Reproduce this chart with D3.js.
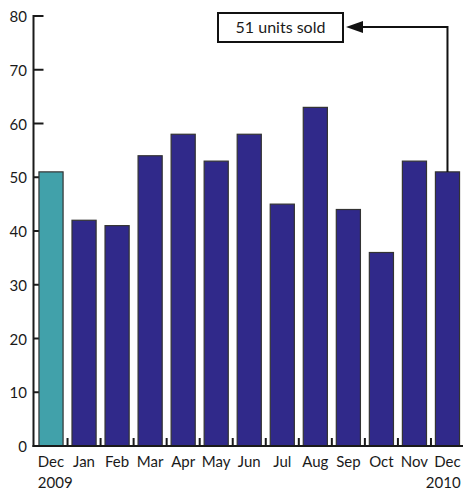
<!DOCTYPE html>
<html>
<head>
<meta charset="utf-8">
<script src="https://cdn.jsdelivr.net/npm/d3@7"></script>
<style>
  body { margin: 0; background: #fff; }
  text { font-family: Lato, "Open Sans", sans-serif; fill: #1a1a1a; }
</style>
</head>
<body>
<svg id="chart" width="463" height="491"></svg>
<script>
// month labels, first and last carry the year underneath
const months = ["Dec", "Jan", "Feb", "Mar", "Apr", "May", "Jun", "Jul", "Aug", "Sep", "Oct", "Nov", "Dec"];
const years = ["2009", "", "", "", "", "", "", "", "", "", "", "", "2010"];
const unitsSold = [51, 42, 41, 54, 58, 53, 58, 45, 63, 44, 36, 53, 51];
const yTicks = [0, 10, 20, 30, 40, 50, 60, 70, 80];
const annotationText = "51 units sold";

const data = months.map((m, i) => ({ i: i, month: m, year: years[i], value: unitsSold[i] }));

const svg = d3.select("#chart");
const axisX = 33.5;
const baseY = 446;

const y = d3.scaleLinear().domain([0, 80]).range([baseY, 16]);
const x = d3.scaleBand()
    .domain(data.map(d => d.i))
    .range([34.5, 464])
    .paddingInner(0.27)
    .paddingOuter(0.135);

// y ticks (drawn first so the bars cover them)
svg.selectAll(".ytick")
    .data(yTicks)
    .enter().append("line")
    .attr("x1", axisX).attr("x2", axisX + 10)
    .attr("y1", d => y(d)).attr("y2", d => y(d))
    .attr("stroke", "#1a1a1a").attr("stroke-width", 2);

svg.selectAll(".ylabel")
    .data(yTicks)
    .enter().append("text")
    .attr("x", 27)
    .attr("y", d => y(d) + 6)
    .attr("text-anchor", "end")
    .attr("font-size", 15)
    .text(d => d);

// small ticks between the bars
const half = (x.step() - x.bandwidth()) / 2;
svg.selectAll(".xtick")
    .data(data.slice(0, -1))
    .enter().append("line")
    .attr("x1", d => x(d.i) + x.bandwidth() + half)
    .attr("x2", d => x(d.i) + x.bandwidth() + half)
    .attr("y1", baseY).attr("y2", baseY - 8)
    .attr("stroke", "#1a1a1a").attr("stroke-width", 2);

svg.selectAll(".bar")
    .data(data)
    .enter().append("rect")
    .attr("x", d => x(d.i))
    .attr("y", d => y(d.value))
    .attr("width", x.bandwidth())
    .attr("height", d => baseY - y(d.value))
    .attr("fill", d => d.i === 0 ? "#41a1aa" : "#30298a")
    .attr("stroke", "#333")
    .attr("stroke-width", 1.2);

// axes lines
svg.append("line")
    .attr("x1", axisX).attr("x2", axisX)
    .attr("y1", y(80) - 1).attr("y2", baseY + 1)
    .attr("stroke", "#1a1a1a").attr("stroke-width", 2);
svg.append("line")
    .attr("x1", axisX - 1).attr("x2", 463)
    .attr("y1", baseY).attr("y2", baseY)
    .attr("stroke", "#1a1a1a").attr("stroke-width", 2);

// month labels
const labels = svg.selectAll(".xlabel")
    .data(data)
    .enter().append("text")
    .attr("x", d => x(d.i) + x.bandwidth() / 2)
    .attr("y", 467)
    .attr("text-anchor", "middle")
    .attr("font-size", 15)
    .text(d => d.month);

labels.each(function (d) {
    if (!d.year) return;
    const w = this.getComputedTextLength();
    const cx = x(d.i) + x.bandwidth() / 2;
    svg.append("text")
        .attr("x", d.i === 0 ? cx - w / 2 : cx + w / 2)
        .attr("y", 488)
        .attr("text-anchor", d.i === 0 ? "start" : "end")
        .attr("font-size", 15)
        .text(d.year);
});

// annotation pointing at the last bar
const last = data[data.length - 1];
const ax = x(last.i) + x.bandwidth() / 2;
const boxL = 218, boxR = 343, boxT = 13, boxB = 42;
const lineY = (boxT + boxB) / 2 - 0.5;

svg.append("rect")
    .attr("x", boxL).attr("y", boxT)
    .attr("width", boxR - boxL).attr("height", boxB - boxT)
    .attr("fill", "#fff").attr("stroke", "#111").attr("stroke-width", 2);
svg.append("text")
    .attr("x", (boxL + boxR) / 2)
    .attr("y", lineY + 6)
    .attr("text-anchor", "middle")
    .attr("font-size", 16)
    .text(annotationText);

svg.append("path")
    .attr("d", `M${ax},${y(last.value)}V${lineY}H${boxR + 18}`)
    .attr("fill", "none").attr("stroke", "#111").attr("stroke-width", 2);
svg.append("path")
    .attr("d", `M${boxR + 3},${lineY}L${boxR + 20},${lineY - 6}L${boxR + 20},${lineY + 6}Z`)
    .attr("fill", "#111");
</script>
</body>
</html>
